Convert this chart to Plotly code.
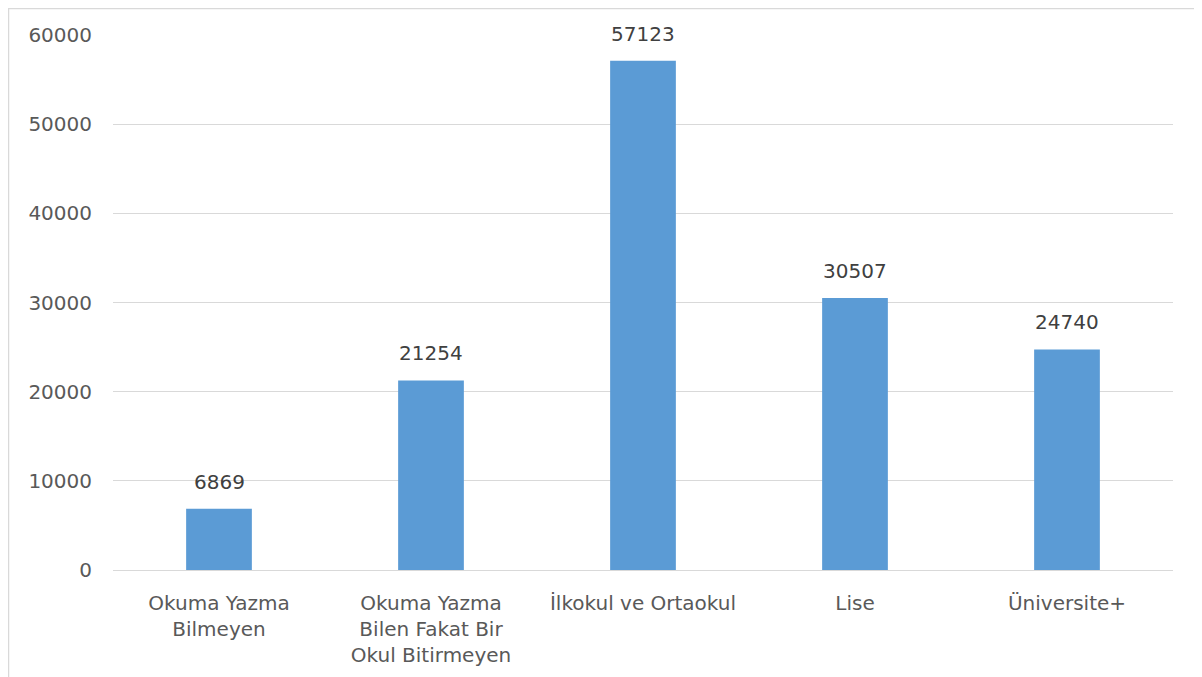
import plotly.graph_objects as go

categories = [
    "Okuma Yazma<br>Bilmeyen",
    "Okuma Yazma<br>Bilen Fakat Bir<br>Okul Bitirmeyen",
    "İlkokul ve Ortaokul",
    "Lise",
    "Üniversite+",
]
values = [6869, 21254, 57123, 30507, 24740]
y_ticks = [0, 10000, 20000, 30000, 40000, 50000, 60000]

font_family = "DejaVu Sans, Liberation Sans, Arial, sans-serif"
label_color = "#595959"

fig = go.Figure(
    go.Bar(
        x=categories,
        y=values,
        marker=dict(color="#5b9bd5", line=dict(width=0)),
        width=0.31,
        hoverinfo="x+y",
    )
)

for c, v in zip(categories, values):
    fig.add_annotation(
        x=c,
        y=v,
        text=str(v),
        showarrow=False,
        yanchor="bottom",
        yshift=13,
        font=dict(family=font_family, size=20, color="#404040"),
    )

fig.update_layout(
    width=1202,
    height=677,
    margin=dict(l=105, r=37, t=27, b=115),
    paper_bgcolor="white",
    plot_bgcolor="white",
    showlegend=False,
    font=dict(family=font_family, size=20, color=label_color),
    xaxis=dict(
        showgrid=False,
        showline=False,
        ticks="",
        tickfont=dict(family=font_family, size=20, color=label_color),
        ticklabelstandoff=19,
    ),
    yaxis=dict(
        range=[0, 60000],
        tickvals=y_ticks,
        ticktext=[str(t) for t in y_ticks],
        showgrid=True,
        gridcolor="#d9d9d9",
        gridwidth=1,
        zeroline=True,
        zerolinecolor="#d9d9d9",
        zerolinewidth=1,
        showline=False,
        ticks="",
        tickfont=dict(family=font_family, size=20, color=label_color),
        ticklabelstandoff=20,
    ),
    shapes=[
        dict(
            type="rect",
            xref="paper",
            yref="paper",
            x0=-0.0986,
            x1=1.0208,
            y0=-0.26,
            y1=1.0495,
            line=dict(color="#d9d9d9", width=1.5),
            fillcolor="rgba(0,0,0,0)",
            layer="below",
        )
    ],
)

fig.write_html("out.html")
